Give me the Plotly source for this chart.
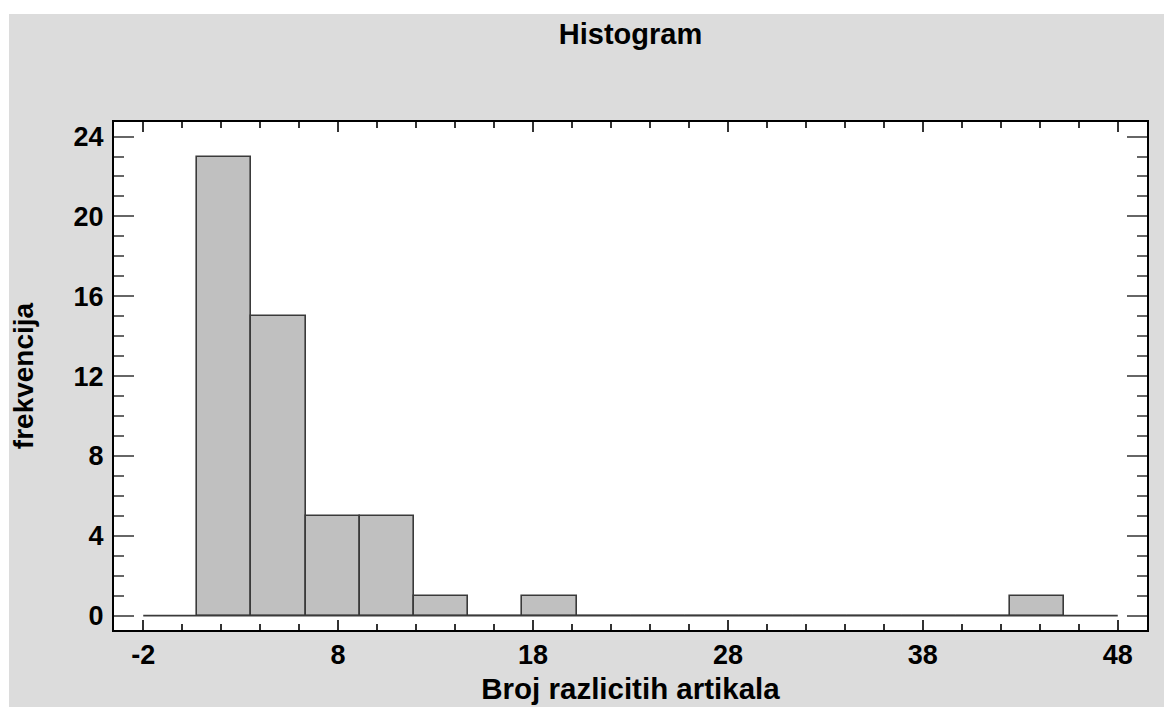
import plotly.graph_objects as go

# class limits (16 classes)
class_lower = [0.77, 3.55, 6.33, 9.11, 11.89, 14.67, 17.45, 20.23,
               23.01, 25.79, 28.57, 31.35, 34.13, 36.91, 39.69, 42.47]
class_width = 2.78
counts = [23, 15, 5, 5, 1, 0, 1, 0, 0, 0, 0, 0, 0, 0, 0, 1]

# baseline drawn along zero
base_x = [-2, 48]
base_y = [0, 0]

x_ticks = [-2, 8, 18, 28, 38, 48]
x_labels = ["-2", "8", "18", "28", "38", "48"]
y_ticks = [0, 4, 8, 12, 16, 20, 24]

# page body adds an 8px offset, so the figure is laid out 8px up/left
W, H = 1172, 707
L, R, T, B = 106, 33, 114, 85
pw, ph = W - L - R, H - T - B

font = "Liberation Sans, Arial, sans-serif"

fig = go.Figure()

fig.add_trace(go.Scatter(
    x=base_x, y=base_y, mode="lines",
    line=dict(color="#3a3a3a", width=1.6),
    hoverinfo="skip", showlegend=False,
))

fig.add_trace(go.Bar(
    x=class_lower, y=counts, width=class_width, offset=0,
    marker=dict(color="#C0C0C0", line=dict(color="#3a3a3a", width=1.6)),
    showlegend=False,
))

# thin white strips at the top and left edge of the picture
fig.add_shape(type="rect", xref="paper", yref="paper",
              x0=-L / pw - 0.01, x1=(1 - L) / pw, y0=-B / ph - 0.01, y1=(H - B) / ph + 0.01,
              fillcolor="white", line_width=0, layer="above")
fig.add_shape(type="rect", xref="paper", yref="paper",
              x0=-L / pw - 0.01, x1=(W - L) / pw + 0.01, y0=(H - B - 6) / ph, y1=(H - B) / ph + 0.01,
              fillcolor="white", line_width=0, layer="above")

fig.update_layout(
    width=W, height=H,
    margin=dict(l=L, r=R, t=T, b=B, autoexpand=False),
    paper_bgcolor="#DCDCDC",
    plot_bgcolor="white",
    bargap=0,
    font=dict(family=font, size=27, color="black"),
    title=dict(text="<b>Histogram</b>", x=(L + pw / 2) / W, xanchor="center",
               y=1 - 26 / H, yanchor="middle", font=dict(size=29)),
)

fig.update_xaxes(
    range=[-3.5, 49.5], tickvals=x_ticks, ticktext=x_labels,
    showgrid=False, zeroline=False, automargin=False,
    showline=True, linecolor="black", linewidth=2, mirror="allticks",
    ticks="inside", ticklen=10, tickwidth=1.5, tickcolor="#333",
    minor=dict(dtick=2, tick0=-2, ticks="inside", ticklen=6, tickwidth=1.5,
               tickcolor="#333", showgrid=False),
    tickfont=dict(family=font, size=27, weight="bold"),
    ticklabelstandoff=0,
    title=dict(text="<b>Broj razlicitih artikala</b>", standoff=9,
               font=dict(size=29.5)),
)

fig.update_yaxes(
    range=[-0.72, 24.73], tickvals=y_ticks,
    showgrid=False, zeroline=False, automargin=False,
    showline=True, linecolor="black", linewidth=2, mirror="allticks",
    ticks="inside", ticklen=20, tickwidth=2, tickcolor="#666",
    minor=dict(dtick=1, tick0=0, ticks="inside", ticklen=10, tickwidth=2,
               tickcolor="#666", showgrid=False),
    tickfont=dict(family=font, size=27, weight="bold"),
    ticklabelstandoff=3,
    title=dict(text="<b>frekvencija</b>", standoff=37, font=dict(size=28)),
)

fig.write_html("out.html")
